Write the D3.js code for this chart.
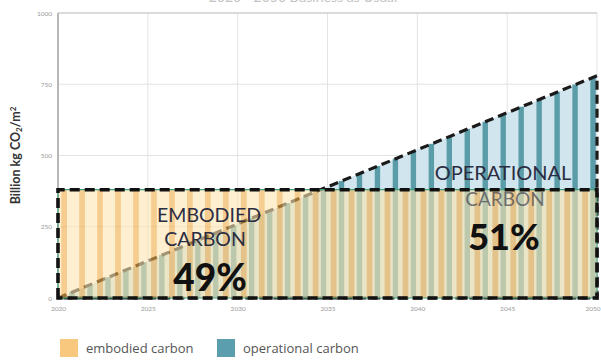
<!DOCTYPE html>
<html>
<head>
<meta charset="utf-8">
<script src="https://cdn.jsdelivr.net/npm/d3@7/dist/d3.min.js"></script>
<style>
  html, body { margin: 0; padding: 0; background: #fff; }
  svg { display: block; font-family: Lato, "Open Sans", sans-serif; }
</style>
</head>
<body>
<svg id="chart" width="601" height="361"></svg>
<script>
// Yearly bands 2020–2049
const years = [2020, 2021, 2022, 2023, 2024, 2025, 2026, 2027, 2028, 2029,
               2030, 2031, 2032, 2033, 2034, 2035, 2036, 2037, 2038, 2039,
               2040, 2041, 2042, 2043, 2044, 2045, 2046, 2047, 2048, 2049];
// Embodied carbon (billion kg CO2/m2), flat each year
const embodied = [380, 380, 380, 380, 380, 380, 380, 380, 380, 380,
                  380, 380, 380, 380, 380, 380, 380, 380, 380, 380,
                  380, 380, 380, 380, 380, 380, 380, 380, 380, 380];
// Operational carbon, growing every year
const operational = [21, 47, 73, 99, 125, 151, 177, 203, 229, 255,
                     281, 307, 333, 359, 385, 411, 437, 463, 489, 515,
                     541, 567, 593, 619, 645, 671, 697, 723, 749, 775];
// Envelope outlines
const spanYears = [2020, 2050];
const operationalEnvelope = [0, 780];
const embodiedEnvelope = [380, 380];
const xTicks = [2020, 2025, 2030, 2035, 2040, 2045, 2050];
const yTicks = [0, 250, 500, 750, 1000];
const shares = { embodied: "49%", operational: "51%" };
const legendItems = ["embodied carbon", "operational carbon"];

const svg = d3.select("#chart");
const x = d3.scaleLinear().domain([2020, 2050]).range([58, 597]);
const y = d3.scaleLinear().domain([0, 1000]).range([298, 13]);

// title (runs off the top edge)
svg.append("text").attr("x", 303).attr("y", 2).attr("text-anchor", "middle")
  .attr("font-size", 14).attr("fill", "#c4c4c4").text("2020 - 2050 Business as Usual");

// grid
const grid = svg.append("g");
grid.selectAll("line.v").data(xTicks.slice(1)).join("line")
  .attr("x1", d => x(d)).attr("x2", d => x(d)).attr("y1", y(1000)).attr("y2", y(0))
  .attr("stroke", "#e3e3e3").attr("stroke-width", 1);
grid.selectAll("line.h").data(yTicks.slice(1)).join("line")
  .attr("x1", x(2020)).attr("x2", x(2050)).attr("y1", d => y(d)).attr("y2", d => y(d))
  .attr("stroke", d => d === 1000 ? "#cfcfcf" : "#e3e3e3").attr("stroke-width", d => d === 1000 ? 1.5 : 1);
grid.append("line").attr("x1", x(2020)).attr("x2", x(2020)).attr("y1", y(1000)).attr("y2", y(0))
  .attr("stroke", "#b8b8b8").attr("stroke-width", 2);

// axes
const yAxis = d3.axisLeft(y).tickValues(yTicks).tickFormat(d3.format("d")).tickSize(0).tickPadding(6);
svg.append("g").attr("transform", `translate(${x(2020)},0)`).call(yAxis)
  .call(g => g.select(".domain").remove())
  .call(g => g.selectAll("text").attr("font-size", 6.5).attr("fill", "#9a9a9a").attr("font-family", "Lato, sans-serif"));
const xAxis = d3.axisBottom(x).tickValues(xTicks).tickFormat(d3.format("d")).tickSize(0).tickPadding(8);
svg.append("g").attr("transform", `translate(0,${y(0)})`).call(xAxis)
  .call(g => g.select(".domain").remove())
  .call(g => g.selectAll("text").attr("font-size", 6.5).attr("fill", "#9a9a9a").attr("font-family", "Lato, sans-serif"))
  .call(g => g.selectAll(".tick").filter(d => d === 2050).select("text").attr("text-anchor", "end").attr("dx", 3));

// y label
svg.append("text").attr("transform", `translate(20,${y(500)}) rotate(-90)`)
  .attr("text-anchor", "middle").attr("font-size", 12.5).attr("font-weight", 700).attr("fill", "#333")
  .html('Billion kg CO<tspan font-size="8" dy="2">2</tspan><tspan dy="-2">/m</tspan><tspan font-size="8" dy="-4">2</tspan>');

// operational layer
const triPts = [[spanYears[0], operationalEnvelope[0]], [spanYears[1], operationalEnvelope[1]], [spanYears[1], 0]];
const line = d3.line().x(d => x(d[0])).y(d => y(d[1]));
svg.append("path").attr("d", line(triPts) + "Z").attr("fill", "#d0e5ed");
svg.append("g").selectAll("rect").data(years).join("rect")
  .attr("x", d => x(d + 0.63)).attr("width", x(2020.3) - x(2020))
  .attr("y", (d, i) => y(operational[i])).attr("height", (d, i) => y(0) - y(operational[i]))
  .attr("fill", "#5a9ca8");
svg.append("path").attr("d", line(triPts) + "Z").attr("fill", "none")
  .attr("stroke", "#1a1a1a").attr("stroke-width", 3.2).attr("stroke-dasharray", "9,5");

svg.append("text").attr("x", 503).attr("y", 180).attr("text-anchor", "middle")
  .attr("font-size", 20).attr("fill", "#2b2d42").text("OPERATIONAL");

// embodied layer
const emb = svg.append("g").attr("opacity", 0.6);
emb.append("rect").attr("x", x(spanYears[0])).attr("width", x(spanYears[1]) - x(spanYears[0]))
  .attr("y", y(embodiedEnvelope[0])).attr("height", y(0) - y(embodiedEnvelope[0])).attr("fill", "#fde6b0");
emb.selectAll("rect.bar").data(years).join("rect").attr("class", "bar")
  .attr("x", d => x(d + 0.18)).attr("width", x(2020.32) - x(2020))
  .attr("y", (d, i) => y(embodied[i])).attr("height", (d, i) => y(0) - y(embodied[i]))
  .attr("fill", "#f1ad48");

svg.append("text").attr("x", 505).attr("y", 206).attr("text-anchor", "middle")
  .attr("font-size", 19).attr("fill", "#2b2d42").attr("opacity", 0.6).text("CARBON");

const embPts = [[spanYears[0], 0], [spanYears[0], embodiedEnvelope[0]], [spanYears[1], embodiedEnvelope[1]], [spanYears[1], 0]];
svg.append("path").attr("d", line(embPts) + "Z").attr("fill", "none")
  .attr("stroke", "#3e9e7e").attr("stroke-width", 1.2);
svg.append("path").attr("d", line(embPts) + "Z").attr("fill", "none")
  .attr("stroke", "#111").attr("stroke-width", 3.6).attr("stroke-dasharray", "10,5");

// embodied labels and shares
svg.append("text").attr("x", 209).attr("y", 222).attr("text-anchor", "middle")
  .attr("font-size", 19.5).attr("fill", "#2b2d42").text("EMBODIED");
svg.append("text").attr("x", 205).attr("y", 246).attr("text-anchor", "middle")
  .attr("font-size", 19.5).attr("fill", "#2b2d42").text("CARBON");
svg.append("text").attr("x", 210).attr("y", 291).attr("text-anchor", "middle")
  .attr("font-size", 37).attr("font-weight", 900).attr("fill", "#111").text(shares.embodied);
svg.append("text").attr("x", 504).attr("y", 250).attr("text-anchor", "middle")
  .attr("font-size", 36).attr("font-weight", 900).attr("fill", "#111").text(shares.operational);

// legend
const legend = svg.append("g");
const legendColors = ["#f7c87e", "#5b9fae"];
const legendX = [60, 217];
legendItems.forEach((t, i) => {
  legend.append("rect").attr("x", legendX[i]).attr("y", 339).attr("width", 18).attr("height", 18)
    .attr("fill", legendColors[i]);
  legend.append("text").attr("x", legendX[i] + 26).attr("y", 353).attr("font-size", 13)
    .attr("font-family", "'Open Sans', sans-serif").attr("fill", "#555").text(t);
});
</script>
</body>
</html>
